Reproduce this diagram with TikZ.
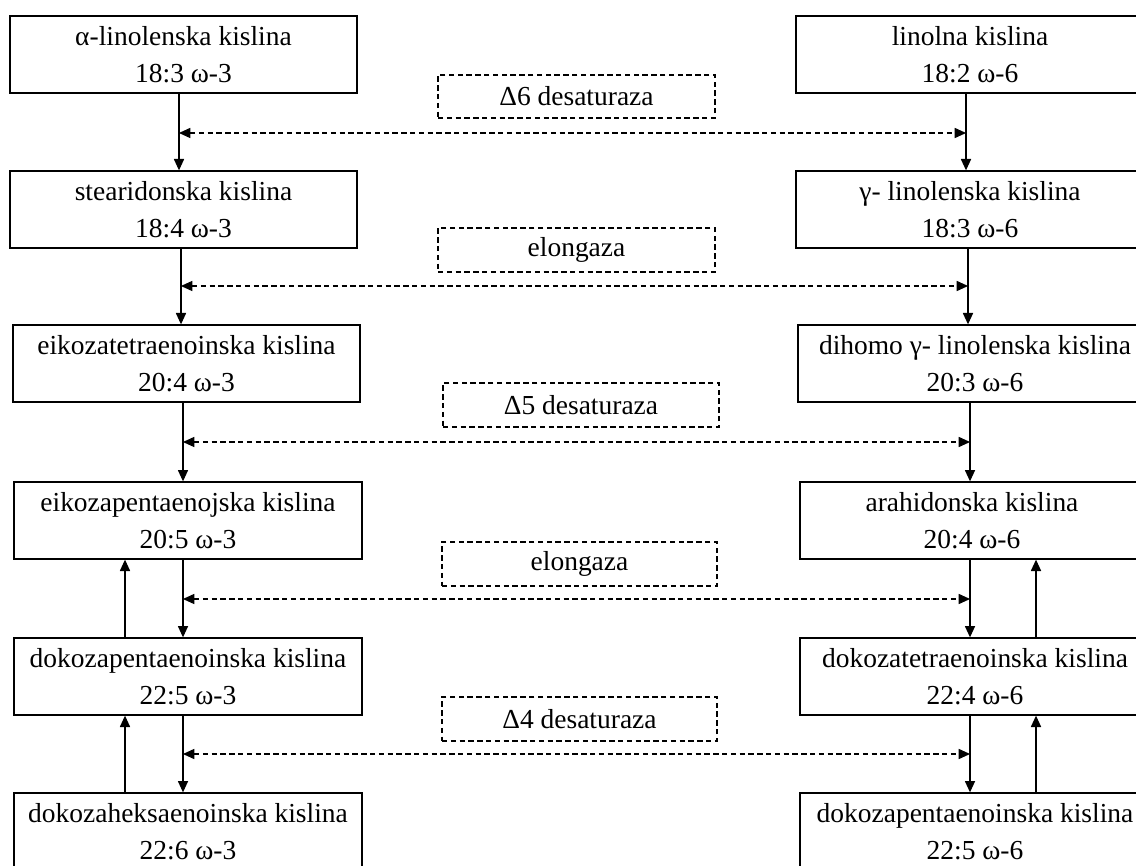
\documentclass[tikz,border=0pt]{standalone}
\usepackage{fontspec}
\setmainfont{Liberation Serif}
\usetikzlibrary{arrows.meta}
\newcommand\placebox[7]{\node[#1, minimum width={(#4-#2)*0.75pt}, minimum height={(#5-#3)*0.75pt}] (#6) at ({(#2+#4)/2},{(#3+#5)/2}) {#7};}
\begin{document}
\begin{tikzpicture}[x=0.75pt,y=-0.75pt,
  box/.style={draw, line width=1pt, inner sep=0pt, align=center,
    font=\fontsize{20.6pt}{27.7pt}\selectfont},
  enz/.style={draw, line width=0.9pt, dash pattern=on 4pt off 2.6pt, inner sep=0pt,
    font=\fontsize{20.6pt}{27.7pt}\selectfont},
  conn/.style={line width=0.9pt, -{Triangle[length=8.5pt,width=7.6pt]}},
  dconn/.style={line width=0.8pt, dash pattern=on 4pt off 2.6pt,
    {Triangle[length=8.5pt,width=7.6pt]}-{Triangle[length=8.5pt,width=7.6pt]}}]
\clip (0,0) rectangle (1136,866);
\fill[white] (0,0) rectangle (1136,866);
% left column
\placebox{box}{10}{16}{357}{93}{l1}{α-linolenska kislina\\18:3 ω-3}
\placebox{box}{10}{171}{357}{248}{l2}{stearidonska kislina\\18:4 ω-3}
\placebox{box}{13}{325}{360}{402}{l3}{eikozatetraenoinska kislina\\20:4 ω-3}
\placebox{box}{14}{482}{362}{559}{l4}{eikozapentaenojska kislina\\20:5 ω-3}
\placebox{box}{14}{638}{362}{715}{l5}{dokozapentaenoinska kislina\\22:5 ω-3}
\placebox{box}{14}{793}{362}{870}{l6}{dokozaheksaenoinska kislina\\22:6 ω-3}
% right column
\placebox{box}{796}{16}{1144}{93}{r1}{linolna kislina\\18:2 ω-6}
\placebox{box}{796}{171}{1144}{248}{r2}{γ- linolenska kislina\\18:3 ω-6}
\placebox{box}{798}{325}{1152}{402}{r3}{dihomo γ- linolenska kislina\\20:3 ω-6}
\placebox{box}{800}{482}{1144}{559}{r4}{arahidonska kislina\\20:4 ω-6}
\placebox{box}{800}{638}{1150}{715}{r5}{dokozatetraenoinska kislina\\22:4 ω-6}
\placebox{box}{800}{793}{1150}{870}{r6}{dokozapentaenoinska kislina\\22:5 ω-6}
% enzymes
\placebox{enz}{438}{75}{715}{118}{e1}{Δ6 desaturaza}
\placebox{enz}{438}{228}{715}{272}{e2}{elongaza}
\placebox{enz}{443}{383}{719}{427}{e3}{Δ5 desaturaza}
\placebox{enz}{442}{542}{717}{586}{e4}{elongaza}
\placebox{enz}{442}{697}{717}{741}{e5}{Δ4 desaturaza}
% vertical guide coordinates
\coordinate (xl1) at (179,0);
\coordinate (xl2) at (181,0);
\coordinate (xl3) at (183,0);
\coordinate (xu) at (125,0);
\coordinate (xr1) at (966,0);
\coordinate (xr2) at (968,0);
\coordinate (xr3) at (970,0);
\coordinate (xru) at (1036,0);
% downward arrows
\draw[conn] (l1.south -| xl1) -- (l2.north -| xl1);
\draw[conn] (l2.south -| xl2) -- (l3.north -| xl2);
\draw[conn] (l3.south -| xl3) -- (l4.north -| xl3);
\draw[conn] (l4.south -| xl3) -- (l5.north -| xl3);
\draw[conn] (l5.south -| xl3) -- (l6.north -| xl3);
\draw[conn] (r1.south -| xr1) -- (r2.north -| xr1);
\draw[conn] (r2.south -| xr2) -- (r3.north -| xr2);
\draw[conn] (r3.south -| xr3) -- (r4.north -| xr3);
\draw[conn] (r4.south -| xr3) -- (r5.north -| xr3);
\draw[conn] (r5.south -| xr3) -- (r6.north -| xr3);
% upward arrows
\draw[conn] (l5.north -| xu) -- (l4.south -| xu);
\draw[conn] (l6.north -| xu) -- (l5.south -| xu);
\draw[conn] (r5.north -| xru) -- (r4.south -| xru);
\draw[conn] (r6.north -| xru) -- (r5.south -| xru);
% dashed enzyme arrows
\coordinate (d1l) at (179,133); \coordinate (d1r) at (966,133);
\coordinate (d2l) at (181,286); \coordinate (d2r) at (968,286);
\coordinate (d3l) at (183,442); \coordinate (d3r) at (970,442);
\coordinate (d4l) at (183,599); \coordinate (d4r) at (970,599);
\coordinate (d5l) at (183,754); \coordinate (d5r) at (970,754);
\draw[dconn] (d1l) -- (d1r);
\draw[dconn] (d2l) -- (d2r);
\draw[dconn] (d3l) -- (d3r);
\draw[dconn] (d4l) -- (d4r);
\draw[dconn] (d5l) -- (d5r);
\end{tikzpicture}
\end{document}
